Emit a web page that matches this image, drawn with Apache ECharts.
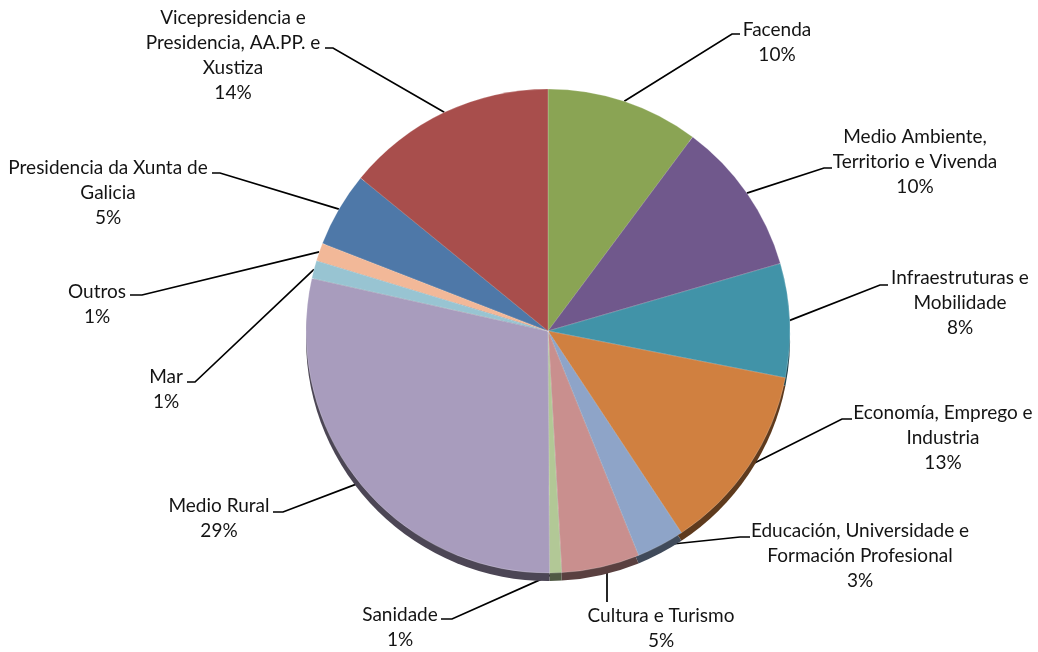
<!DOCTYPE html>
<html>
<head>
<meta charset="utf-8">
<script src="https://cdn.jsdelivr.net/npm/echarts@6/dist/echarts.min.js"></script>
<style>
  html, body { margin: 0; padding: 0; background: #ffffff; }
  #chart { width: 1038px; height: 652px; }
</style>
</head>
<body>
<div id="chart"></div>
<script>
// Budget share by department (percent of total), clockwise from 12 o'clock
const categories = [
  'Facenda',
  'Medio Ambiente,\nTerritorio e Vivenda',
  'Infraestruturas e\nMobilidade',
  'Economía, Emprego e\nIndustria',
  'Educación, Universidade e\nFormación Profesional',
  'Cultura e Turismo',
  'Sanidade',
  'Medio Rural',
  'Mar',
  'Outros',
  'Presidencia da Xunta de\nGalicia',
  'Vicepresidencia e\nPresidencia, AA.PP. e\nXustiza'
];
const values = [10.2, 10.3, 7.6, 12.6, 3.2, 5.2, 0.8, 28.6, 1.2, 1.2, 5.0, 14.1];

const colors = [
  '#8aa454', '#70588c', '#4193a8', '#d08040', '#8ea4c8', '#c98f8e',
  '#b2c896', '#a89cbd', '#98c4d2', '#f2b898', '#4e78a8', '#a84e4c'
];

// Pie geometry
const CX = 548, CY = 331, R = 242, DEPTH = 8;

// Text block centres and where each leader line meets its label
// (anchor x, anchor y, horizontal elbow offset toward the pie)
const labelCenters = [
  [777, 42], [915, 162], [960, 303], [943, 438], [860, 556], [661, 628],
  [400, 627], [219, 518], [166, 389], [97, 304], [108, 193], [233, 55]
];
const leaderAnchors = [
  [740, 34, -8], [832, 168, -8], [888, 285, -8], [852, 419, -10], [750, 537, -10], [607, 602, 0],
  [441, 619, 11], [273, 512, 10], [187, 382, 8], [130, 295, 12], [212, 173, 8], [325, 48, 8]
];

function darken(hex, f) {
  const n = parseInt(hex.slice(1), 16);
  const r = Math.round(((n >> 16) & 255) * f);
  const g = Math.round(((n >> 8) & 255) * f);
  const b = Math.round((n & 255) * f);
  return 'rgb(' + r + ',' + g + ',' + b + ')';
}

const total = values.reduce((a, b) => a + b, 0);
const midAngles = [];
let acc = 0;
values.forEach(v => { midAngles.push((acc + v / 2) / total * Math.PI * 2); acc += v; });

const topData = categories.map((c, i) => ({ name: c, value: values[i], itemStyle: { color: colors[i] } }));
const sideData = categories.map((c, i) => ({ name: c, value: values[i], itemStyle: { color: darken(colors[i], 0.45) } }));

const chart = echarts.init(document.getElementById('chart'), null, { renderer: 'canvas' });
chart.setOption({
  animation: false,
  backgroundColor: '#ffffff',
  series: [
    {
      // lower rim that gives the disc its thickness
      type: 'pie',
      center: [CX, CY + DEPTH],
      radius: R,
      startAngle: 90,
      clockwise: true,
      silent: true,
      label: { show: false },
      labelLine: { show: false },
      itemStyle: { borderWidth: 0 },
      data: sideData
    },
    {
      type: 'pie',
      center: [CX, CY],
      radius: R,
      startAngle: 90,
      clockwise: true,
      avoidLabelOverlap: false,
      itemStyle: { borderWidth: 0.6, borderColor: 'rgba(255,255,255,0.35)' },
      label: {
        show: true,
        position: 'outside',
        fontFamily: 'Lato',
        fontSize: 19,
        lineHeight: 25,
        color: '#141414',
        align: 'center',
        formatter: p => p.name + '\n' + Math.round(p.percent) + '%'
      },
      labelLine: {
        show: true,
        smooth: false,
        lineStyle: { color: '#000000', width: 1.7 }
      },
      labelLayout: function (params) {
        const i = params.dataIndex;
        const a = midAngles[i];
        const edge = [CX + R * Math.sin(a), CY - R * Math.cos(a)];
        const an = leaderAnchors[i];
        const pts = an[2] === 0
          ? [[an[0], edge[1]], [an[0], an[1]]]
          : [edge, [an[0] + an[2], an[1]], [an[0], an[1]]];
        return {
          x: labelCenters[i][0],
          y: labelCenters[i][1],
          align: 'center',
          verticalAlign: 'middle',
          labelLinePoints: pts
        };
      },
      data: topData
    }
  ]
});
</script>
</body>
</html>
